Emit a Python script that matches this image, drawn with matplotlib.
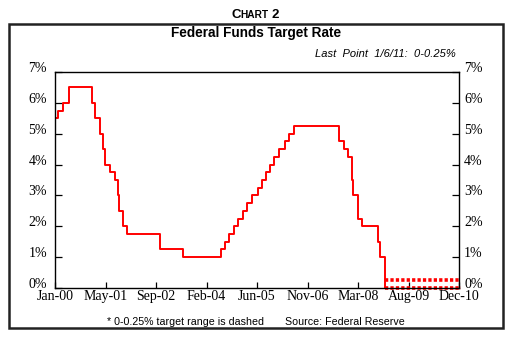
import datetime as dt

import matplotlib
matplotlib.use("Agg")
import matplotlib.pyplot as plt
from matplotlib.patches import Rectangle
from matplotlib.transforms import ScaledTranslation

# FOMC target rate changes (percent)
change_dates = [
    "2000-01-03", "2000-02-02", "2000-03-21", "2000-05-16",
    "2001-01-03", "2001-01-31", "2001-03-20", "2001-04-18", "2001-05-15",
    "2001-06-27", "2001-08-21", "2001-09-17", "2001-10-02", "2001-11-06",
    "2001-12-11", "2002-11-06", "2003-06-25",
    "2004-06-30", "2004-08-10", "2004-09-21", "2004-11-10", "2004-12-14",
    "2005-02-02", "2005-03-22", "2005-05-03", "2005-06-30", "2005-08-09",
    "2005-09-20", "2005-11-01", "2005-12-13",
    "2006-01-31", "2006-03-28", "2006-05-10", "2006-06-29",
    "2007-09-18", "2007-10-31", "2007-12-11",
    "2008-01-22", "2008-01-30", "2008-03-18", "2008-04-30",
    "2008-10-08", "2008-10-29",
]
target_rate = [
    5.50, 5.75, 6.00, 6.50,
    6.00, 5.50, 5.00, 4.50, 4.00,
    3.75, 3.50, 3.00, 2.50, 2.00,
    1.75, 1.25, 1.00,
    1.25, 1.50, 1.75, 2.00, 2.25,
    2.50, 2.75, 3.00, 3.25, 3.50,
    3.75, 4.00, 4.25,
    4.50, 4.75, 5.00, 5.25,
    4.75, 4.50, 4.25,
    3.50, 3.00, 2.25, 2.00,
    1.50, 1.00,
]

# 0-0.25% target range since December 2008
range_dates = ["2008-12-16", "2011-01-06"]
range_upper = [0.25, 0.25]
range_lower = [0.00, 0.00]

x_tick_labels = ["Jan-00", "May-01", "Sep-02", "Feb-04", "Jun-05",
                 "Nov-06", "Mar-08", "Aug-09", "Dec-10"]
y_ticks = [0, 1, 2, 3, 4, 5, 6, 7]

to_date = lambda s: dt.datetime.strptime(s, "%Y-%m-%d")

fig = plt.figure(figsize=(5.12, 3.38), dpi=100)
fig.patch.set_facecolor("white")

# outer frame
fig.patches.append(Rectangle((9 / 512, 1 - 328 / 338), 494 / 512, 304 / 338,
                             transform=fig.transFigure, fill=False,
                             edgecolor="#222222", linewidth=1.8))

ax = fig.add_axes([55 / 512, 1 - 288 / 338, 404 / 512, 216 / 338])

red = "#ff0000"
xs = [to_date(d) for d in change_dates] + [to_date(range_dates[0])]
ys = target_rate + [range_lower[0]]
ax.plot(xs, ys, drawstyle="steps-post", color=red, linewidth=1.4)

rx = [to_date(d) for d in range_dates]
ax.plot(rx, range_upper, color=red, linewidth=2.6, dashes=(0.9, 0.6))
ax.plot(rx, range_lower, color=red, linewidth=2.6, dashes=(0.9, 0.6),
        clip_on=False)

start = to_date("2000-01-03")
tick_pos = [start + dt.timedelta(days=500 * i) for i in range(len(x_tick_labels))]
ax.set_xlim(start, start + dt.timedelta(days=4000))
ax.set_ylim(0, 7)

ax.set_xticks(tick_pos)
ax.set_xticklabels(x_tick_labels)
ax.set_yticks(y_ticks)
ax.set_yticklabels([f"{v}%" for v in y_ticks])

serif = "Liberation Serif"
ax.tick_params(axis="x", direction="in", length=4, width=0.9,
               labelsize=10, pad=1.5, top=False)
ax.tick_params(axis="y", direction="in", length=5, width=0.9,
               labelsize=10, pad=5.8, left=True, right=True,
               labelleft=True, labelright=True)
for lbl in ax.get_xticklabels() + ax.get_yticklabels():
    lbl.set_fontfamily(serif)
for t in ax.yaxis.get_major_ticks():
    t.label1.set_fontfamily(serif)
    t.label2.set_fontfamily(serif)
    t.label1.set_transform(t.label1.get_transform()
                           + ScaledTranslation(0, 5 / 100, fig.dpi_scale_trans))
    t.label2.set_transform(t.label2.get_transform()
                           + ScaledTranslation(-3 / 100, 5 / 100, fig.dpi_scale_trans))

for sp in ax.spines.values():
    sp.set_linewidth(1.0)
    sp.set_color("black")

sans = "Liberation Sans"
# small-caps heading, centred as a whole
head_y = 1 - 13 / 338
h1 = fig.text(0, head_y, "C", ha="left", va="center", fontsize=9.5,
              fontweight="bold", family=sans)
h2 = fig.text(0, head_y, "HART", ha="left", va="baseline", fontsize=7.3,
              fontweight="bold", family=sans)
h3 = fig.text(0, head_y, "2", ha="left", va="baseline", fontsize=9.5,
              fontweight="bold", family=sans)
renderer = fig.canvas.get_renderer()
w1 = h1.get_window_extent(renderer).width
w2 = h2.get_window_extent(renderer).width
w3 = h3.get_window_extent(renderer).width
gap = 2.5
total = w1 + w2 + gap + w3
x0 = 255 - total / 2
base = h1.get_window_extent(renderer).y0 + 0.5
figw = fig.bbox.width
figh = fig.bbox.height
h1.set_position((x0 / figw, head_y))
h1.set_va("center")
b1 = h1.get_window_extent(renderer)
h2.set_position(((x0 + w1) / figw, (b1.y0 + 1.0) / figh))
h3.set_position(((x0 + w1 + w2 + gap) / figw, (b1.y0 + 1.0) / figh))
h1.set_position((x0 / figw, (b1.y0 + 1.0) / figh))
h1.set_va("baseline")

fig.text(0.5, 1 - 33.5 / 338, "Federal Funds Target Rate", ha="center",
         va="center", fontsize=9.8, fontweight="bold", family=sans)
fig.text(456 / 512, 1 - 54 / 338, "Last  Point  1/6/11:  0-0.25%",
         ha="right", va="center", fontsize=8, style="italic", family=sans)
fig.text(255.5 / 512, 1 - 322 / 338,
         "* 0-0.25% target range is dashed       Source: Federal Reserve",
         ha="center", va="center", fontsize=7.7, family=sans)

fig.savefig("out.png", dpi=100)
